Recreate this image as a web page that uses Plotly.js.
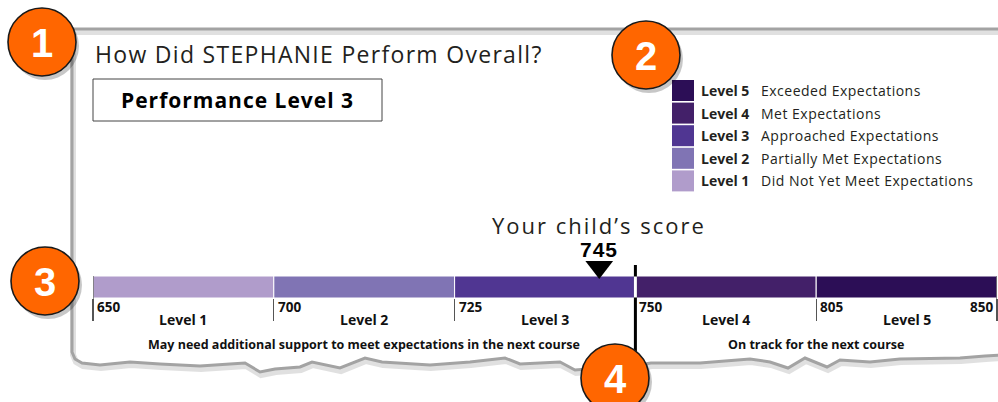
<!DOCTYPE html>
<html><head><meta charset="utf-8">
<script src="https://cdn.plot.ly/plotly-3.0.1.min.js"></script>
<style>html,body{margin:0;padding:0;background:#fff;}#chart{width:998px;height:402px;}</style>
</head><body><div id="chart"></div>
<script>
// ---------- data ----------
const studentName = 'STEPHANIE';
const performanceLevel = 3;
const score = 745;
const cutScores = [650, 700, 725, 750, 805, 850];
const levelNames = ['Level 1', 'Level 2', 'Level 3', 'Level 4', 'Level 5'];
const levelDescriptions = ['Did Not Yet Meet Expectations', 'Partially Met Expectations', 'Approached Expectations', 'Met Expectations', 'Exceeded Expectations'];
const levelColors = ['#B09CCB', '#8074B4', '#503692', '#432069', '#2C0E56'];
const onTrackCut = 750;
const groupNotes = ['May need additional support to meet expectations in the next course', 'On track for the next course'];
const calloutNumbers = ['1', '2', '3', '4'];
const scoreCaption = 'Your child\u2019s score';

// ---------- helpers ----------
const W = 998, H = 402;
const px = x => x / W;
const py = y => 1 - y / H;
const FONT = 'Open Sans, DejaVu Sans, sans-serif';
const TXT = '#231f20';
const sp = (t, ls) => '<span style="letter-spacing:' + ls + 'px">' + t + '</span>';

function scoreToPos(s) {
  for (let i = 0; i < cutScores.length - 1; i++) {
    if (s <= cutScores[i + 1]) return i + (s - cutScores[i]) / (cutScores[i + 1] - cutScores[i]);
  }
  return cutScores.length - 1;
}
const nLevels = levelNames.length;
const idx = levelNames.map((_, i) => i);
const scorePos = scoreToPos(score);
const onTrackPos = cutScores.indexOf(onTrackCut);

// ---------- traces ----------
const barTrace = {
  type: 'bar', orientation: 'h',
  y: idx.map(() => 0), x: idx.map(() => 1), base: idx, width: 1,
  marker: { color: levelColors, line: { color: '#ffffff', width: 1 } },
  hoverinfo: 'skip', showlegend: false
};
const markerTrace = {
  type: 'scatter', mode: 'markers',
  x: [scorePos], y: [0.91],
  marker: { symbol: 'triangle-down', size: 24, color: '#000', line: { width: 0 } },
  cliponaxis: false, hoverinfo: 'skip', showlegend: false
};

// ---------- shapes ----------
const shapes = [];
function pathFrom(pts) {
  return pts.map((p, i) => (i ? 'L' : 'M') + px(p[0]).toFixed(5) + ',' + py(p[1]).toFixed(5)).join(' ');
}
const cardPts = [[1000, 29], [72, 29], [72, 352], [75, 359], [82, 363], [100, 365], [130, 362], [160, 364], [200, 366], [230, 364], [245, 363], [260, 372], [275, 369], [300, 367], [312, 362], [340, 368], [365, 358], [382, 362], [430, 365], [470, 362], [505, 358], [520, 364], [560, 362], [575, 370], [600, 368], [630, 366], [651, 363], [700, 363], [750, 359], [770, 362], [788, 368], [805, 358], [827, 367], [840, 360], [870, 362], [900, 359], [960, 358], [985, 356], [1000, 355]];
shapes.push({ type: 'path', xref: 'paper', yref: 'paper', path: pathFrom(cardPts.map(p => [p[0] + 1, p[1] + 3])), line: { color: 'rgba(0,0,0,0.12)', width: 6 }, layer: 'below' });
shapes.push({ type: 'path', xref: 'paper', yref: 'paper', path: pathFrom(cardPts), line: { color: '#a3a3a3', width: 3 }, layer: 'below' });

// performance box
shapes.push({ type: 'rect', xref: 'paper', yref: 'paper', x0: px(93), x1: px(382), y0: py(121), y1: py(79), line: { color: '#444', width: 1 } });

// legend squares (Level 5 on top)
const legTop = 80, legPitch = 22.6, legSize = 21;
idx.forEach(i => {
  const r = nLevels - 1 - i;
  shapes.push({ type: 'rect', xref: 'paper', yref: 'paper', x0: px(672), x1: px(672 + legSize + 1), y0: py(legTop + r * legPitch + legSize), y1: py(legTop + r * legPitch), fillcolor: levelColors[i], line: { width: 0 } });
});

// bar edge lines
[0, nLevels].forEach(i => {
  shapes.push({ type: 'line', xref: 'x', yref: 'paper', x0: i, x1: i, y0: py(276), y1: py(320), line: { color: '#555', width: 1.3 } });
});
// on-track divider
shapes.push({ type: 'line', xref: 'x', yref: 'paper', x0: onTrackPos, x1: onTrackPos, y0: py(265), y1: py(392), line: { color: '#000', width: 3 } });
shapes.push({ type: 'line', xref: 'x', yref: 'paper', x0: onTrackPos, x1: onTrackPos, y0: py(276.5), y1: py(297.5), line: { color: '#fff', width: 3 } });

// callout circles
const circles = [[42, 42], [646, 55], [45, 281], [615, 378]];
const R = 34;
circles.forEach(c => {
  shapes.push({ type: 'circle', xref: 'paper', yref: 'paper', x0: px(c[0] - R + 3), x1: px(c[0] + R + 3), y0: py(c[1] + R + 4), y1: py(c[1] - R + 4), fillcolor: 'rgba(0,0,0,0.22)', line: { width: 0 } });
  shapes.push({ type: 'circle', xref: 'paper', yref: 'paper', x0: px(c[0] - R), x1: px(c[0] + R), y0: py(c[1] + R), y1: py(c[1] - R), fillcolor: '#FF6600', line: { color: '#1a1a1a', width: 1.6 } });
});

// ---------- annotations ----------
const ann = [];
function A(o) { ann.push(Object.assign({ showarrow: false, xref: 'paper', yref: 'paper', xanchor: 'left', yanchor: 'middle' }, o)); }

A({ x: px(93), y: py(54), text: sp('How Did ' + studentName + ' Perform Overall?', 1.3), font: { family: FONT, size: 23, color: TXT } });
A({ x: px(237.5), y: py(100), xanchor: 'center', text: '<b>' + sp('Performance Level ' + performanceLevel, 1) + '</b>', font: { family: FONT, size: 21, color: '#000' } });

idx.forEach(i => {
  const r = nLevels - 1 - i;
  const yc = legTop + r * legPitch + legSize / 2;
  A({ x: px(699), y: py(yc), text: '<b>' + levelNames[i] + '</b>', font: { family: FONT, size: 14, color: TXT } });
  A({ x: px(759), y: py(yc), text: sp(levelDescriptions[i], 0.5), font: { family: FONT, size: 14, color: TXT } });
});

A({ x: scorePos, xref: 'x', y: py(225), xanchor: 'center', text: sp(scoreCaption, 2), font: { family: FONT, size: 22, color: TXT } });
A({ x: scorePos, xref: 'x', y: py(249), xanchor: 'center', text: '<b>' + sp(String(score), 1) + '</b>', font: { family: 'Liberation Sans, Arial, sans-serif', size: 21, color: '#000' } });

cutScores.forEach((c, i) => {
  const last = i === cutScores.length - 1;
  A({ x: i, xref: 'x', xanchor: last ? 'right' : 'left', xshift: last ? -2 : 2, y: py(307), text: '<b>' + c + '</b>', font: { family: FONT, size: 13.5, color: '#111' } });
});
idx.forEach(i => {
  A({ x: i + 0.5, xref: 'x', xanchor: 'center', y: py(319), text: '<b>' + levelNames[i] + '</b>', font: { family: FONT, size: 14, color: '#111' } });
});
A({ x: onTrackPos / 2, xref: 'x', xanchor: 'center', y: py(344), text: '<b>' + groupNotes[0] + '</b>', font: { family: FONT, size: 12.5, color: '#111' } });
A({ x: (onTrackPos + nLevels) / 2, xref: 'x', xanchor: 'center', y: py(344), text: '<b>' + groupNotes[1] + '</b>', font: { family: FONT, size: 12.5, color: '#111' } });

circles.forEach((c, i) => {
  A({ x: px(c[0]), y: py(c[1] + 1), xanchor: 'center', text: '<b>' + calloutNumbers[i] + '</b>', font: { family: 'Liberation Sans, Arial, sans-serif', size: 40, color: '#fff' } });
});

// ---------- layout ----------
const layout = {
  width: W, height: H,
  margin: { l: 0, r: 0, t: 0, b: 0, pad: 0 },
  paper_bgcolor: '#fff', plot_bgcolor: 'rgba(0,0,0,0)',
  barmode: 'overlay', bargap: 0,
  xaxis: {
    domain: [px(93), px(997)], range: [0, nLevels],
    tickvals: cutScores.map((_, i) => i), showticklabels: false,
    ticks: 'outside', ticklen: 22, tickcolor: '#555', tickwidth: 1.3,
    showgrid: false, zeroline: false, showline: false, fixedrange: true
  },
  yaxis: {
    domain: [py(298), py(254)], range: [-0.5, 1.5],
    visible: false, fixedrange: true
  },
  shapes: shapes,
  annotations: ann,
  showlegend: false
};

Plotly.newPlot('chart', [barTrace, markerTrace], layout, { displayModeBar: false, staticPlot: true });
</script>
</body></html>
